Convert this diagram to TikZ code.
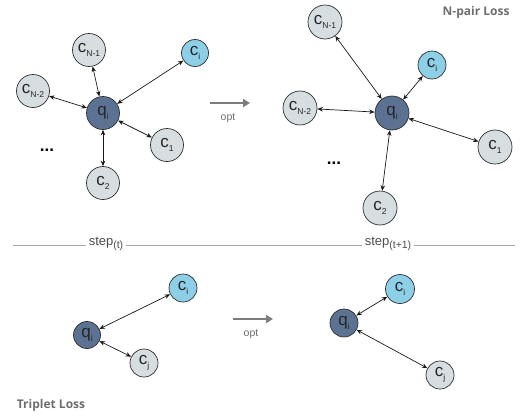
\documentclass[tikz,border=0pt]{standalone}
\usepackage{fontspec}
\setmainfont{Liberation Sans}
\newfontfamily\titlefont{Open Sans}
\usetikzlibrary{arrows.meta}
\definecolor{qfill}{HTML}{5B7292}
\definecolor{cifill}{HTML}{8ECFE8}
\definecolor{cfill}{HTML}{D6DEE1}
\definecolor{edgec}{HTML}{2E2E2E}
\definecolor{greyline}{HTML}{A8A8A8}
\definecolor{greytext}{HTML}{6E6E6E}
\newcommand\lbl[2]{#1\raisebox{-0.45ex}{\fontsize{8.5}{8.5}\selectfont #2}}
\tikzset{
  nd/.style={circle,draw=edgec,line width=0.7pt,inner sep=0pt,font=\fontsize{17}{17}\selectfont,text=black!85},
  qn/.style={nd,fill=qfill,minimum size=#1},
  cin/.style={nd,fill=cifill,minimum size=#1},
  cn/.style={nd,fill=cfill,minimum size=#1},
  link/.style={{Stealth[length=5.5pt,width=4.5pt]}-{Stealth[length=5.5pt,width=4.5pt]},line width=0.7pt,black!90},
  optarrow/.style={-{Triangle[length=7pt,width=8pt]},line width=2pt,greytext!90},
  optlbl/.style={font=\fontsize{10.5}{10.5}\selectfont,text=greytext},
  stepline/.style={line width=0.9pt,greyline},
  steplbl/.style={font=\fontsize{13}{13}\selectfont,text=black!70,inner sep=3pt},
  title/.style={font=\titlefont\bfseries\fontsize{12}{12}\selectfont,text=greytext},
  dotslbl/.style={font=\fontsize{17}{17}\selectfont\bfseries}
}
\begin{document}
\begin{tikzpicture}[x=1pt,y=-1pt]
\useasboundingbox (0,0) rectangle (524,418);
% ---- top left
\node[qn=33pt] (q1) at (103,113) {\lbl{q}{i}};
\node[cn=33pt] (a1) at (89,50) {\lbl{c}{N-1}};
\node[cin=27pt] (b1) at (195,53) {\lbl{c}{i}};
\node[cn=33pt] (d1) at (33,91) {\lbl{c}{N-2}};
\node[cn=33pt] (e1) at (167,145) {\lbl{c}{1}};
\node[cn=33pt] (f1) at (103,183) {\lbl{c}{2}};
\node[dotslbl] (g1) at (47,150) {...};
\draw[link] (q1) -- (a1);
\draw[link] (q1) -- (b1);
\draw[link] (q1) -- (d1);
\draw[link] (q1) -- (e1);
\draw[link] (q1) -- (f1);
\coordinate (o1s) at (210,103);
\coordinate (o1e) at (250,103);
\draw[optarrow] (o1s) -- (o1e);
\node[optlbl] (o1l) at (228,118) {opt};
% ---- top right
\node[qn=34pt] (q2) at (392,113) {\lbl{q}{i}};
\node[cn=34pt] (a2) at (325,22) {\lbl{c}{N-1}};
\node[cin=28pt] (b2) at (432,65) {\lbl{c}{i}};
\node[cn=34pt] (d2) at (300,108) {\lbl{c}{N-2}};
\node[cn=34pt] (e2) at (495,147) {\lbl{c}{1}};
\node[cn=34pt] (f2) at (380,208) {\lbl{c}{2}};
\node[dotslbl] (g2) at (334,163) {...};
\draw[link] (q2) -- (a2);
\draw[link] (q2) -- (b2);
\draw[link] (q2) -- (d2);
\draw[link] (q2) -- (e2);
\draw[link] (q2) -- (f2);
\node[title,anchor=east] (t1) at (513,12) {N-pair Loss};
% ---- step line
\node[steplbl] (s1) at (106,244) {step\raisebox{-0.45ex}{\fontsize{10.5}{10.5}\selectfont(t)}};
\node[steplbl] (s2) at (388,244) {step\raisebox{-0.45ex}{\fontsize{10.5}{10.5}\selectfont(t+1)}};
\coordinate (l0) at (13,245);
\coordinate (l3) at (515,245);
\draw[stepline] (l0) -- (l0 -| s1.west);
\draw[stepline] (s1.east |- l0) -- (s2.west |- l0);
\draw[stepline] (s2.east |- l0) -- (l3);
% ---- bottom left
\node[qn=27pt] (q3) at (87,335) {\lbl{q}{i}};
\node[cin=28pt] (b3) at (183,288) {\lbl{c}{i}};
\node[cn=28pt] (c3) at (144,363) {\lbl{c}{j}};
\draw[link] (q3) -- (b3);
\draw[link] (q3) -- (c3);
\coordinate (o2s) at (233,319);
\coordinate (o2e) at (273,319);
\draw[optarrow] (o2s) -- (o2e);
\node[optlbl] (o2l) at (251,334) {opt};
% ---- bottom right
\node[qn=28pt] (q4) at (344,323) {\lbl{q}{i}};
\node[cin=29pt] (b4) at (400,289) {\lbl{c}{i}};
\node[cn=28pt] (c4) at (440,375) {\lbl{c}{j}};
\draw[link] (q4) -- (b4);
\draw[link] (q4) -- (c4);
\node[title] (t2) at (51,405) {Triplet Loss};
\end{tikzpicture}
\end{document}
